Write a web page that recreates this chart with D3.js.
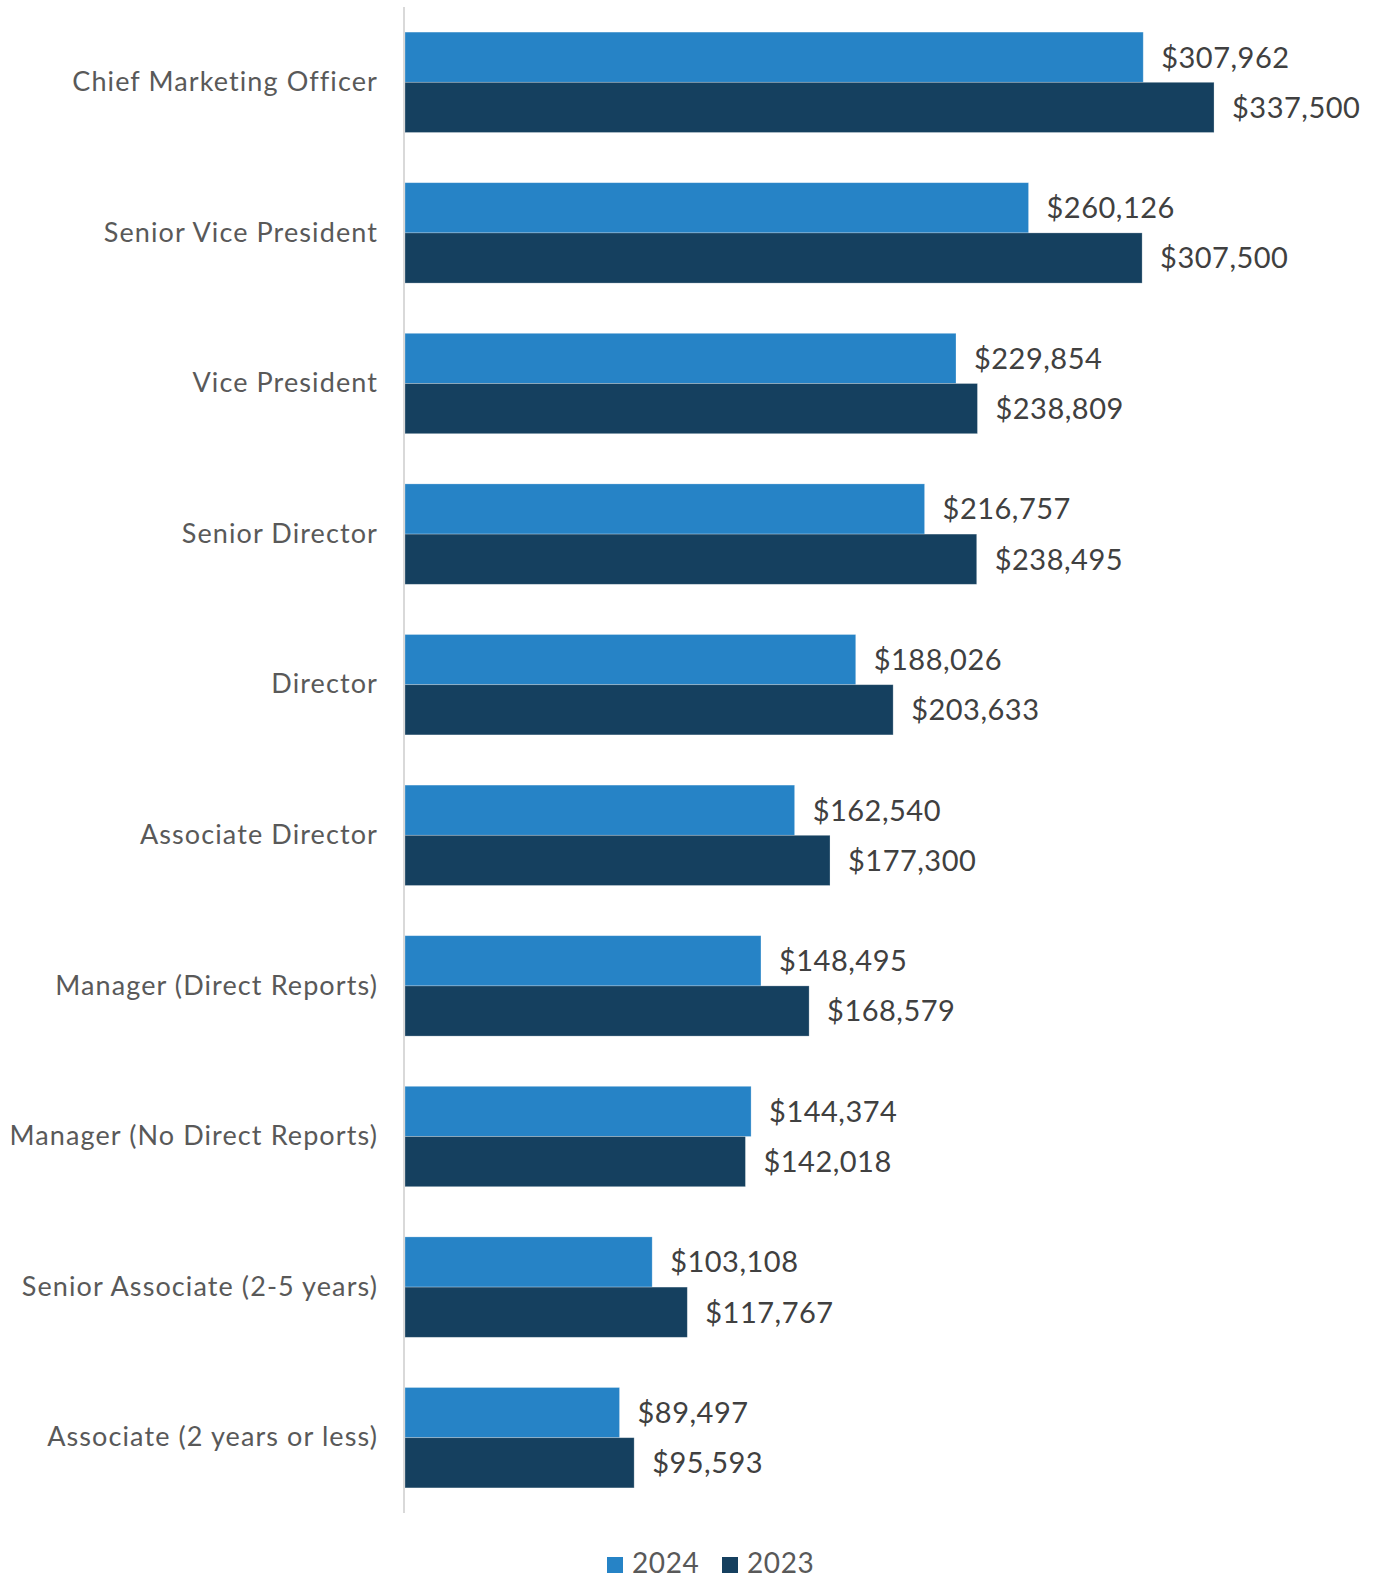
<!DOCTYPE html>
<html>
<head>
<meta charset="utf-8">
<script src="https://cdn.jsdelivr.net/npm/d3@7/dist/d3.min.js"></script>
<style>
  html, body { margin: 0; padding: 0; background: #fff; }
  svg { display: block; }
  text { font-family: "Lato", "Noto Sans", sans-serif; }
</style>
</head>
<body>
<svg id="chart" width="1374" height="1578"></svg>
<script>
// Job levels, top to bottom
const categories = [
  "Chief Marketing Officer",
  "Senior Vice President",
  "Vice President",
  "Senior Director",
  "Director",
  "Associate Director",
  "Manager (Direct Reports)",
  "Manager (No Direct Reports)",
  "Senior Associate (2-5 years)",
  "Associate (2 years or less)"
];
const seriesNames = ["2024", "2023"];
const values2024 = [307962, 260126, 229854, 216757, 188026, 162540, 148495, 144374, 103108, 89497];
const values2023 = [337500, 307500, 238809, 238495, 203633, 177300, 168579, 142018, 117767, 95593];
const xMax = 350000;

const colors = { "2024": "#2683c6", "2023": "#15405f" };

const W = 1374, H = 1578;
const margin = { top: 7, right: 130, bottom: 65, left: 405 };

const svg = d3.select("#chart");

const rows = categories.map((c, i) => ({
  category: c,
  values: [
    { series: "2024", value: values2024[i] },
    { series: "2023", value: values2023[i] }
  ]
}));

const x = d3.scaleLinear().domain([0, xMax]).range([margin.left, W - margin.right]);
const y0 = d3.scaleBand().domain(categories)
  .range([margin.top, H - margin.bottom])
  .paddingInner(1 / 3).paddingOuter(1 / 6);
const y1 = d3.scaleBand().domain(seriesNames).range([0, y0.bandwidth()]);

const fmt = v => "$" + d3.format(",")(v);

// Bars
const groups = svg.append("g").selectAll("g").data(rows).join("g")
  .attr("transform", d => `translate(0,${y0(d.category)})`);

groups.selectAll("rect").data(d => d.values).join("rect")
  .attr("x", x(0))
  .attr("y", d => y1(d.series))
  .attr("width", d => x(d.value) - x(0))
  .attr("height", y1.bandwidth())
  .attr("fill", d => colors[d.series])
  .attr("stroke", "#ffffff")
  .attr("stroke-opacity", 0.35)
  .attr("stroke-width", 0.75);

// Value labels
groups.selectAll("text").data(d => d.values).join("text")
  .attr("x", d => x(d.value) + 18)
  .attr("y", d => y1(d.series) + y1.bandwidth() / 2)
  .attr("dy", "0.36em")
  .attr("font-size", 29)
  .attr("letter-spacing", 0.5)
  .attr("fill", "#404040")
  .text(d => fmt(d.value));

// Category axis
const yAxis = d3.axisLeft(y0).tickSize(0).tickPadding(26);
const ax = svg.append("g")
  .attr("transform", `translate(${x(0) - 1},0)`)
  .call(yAxis);
ax.select(".domain")
  .attr("d", `M0,${margin.top}V${H - margin.bottom}`)
  .attr("stroke", "#d9d9d9").attr("stroke-width", 2);
ax.selectAll(".tick text")
  .attr("font-size", 27)
  .attr("letter-spacing", 1.1)
  .attr("fill", "#595959")
  .attr("font-family", "Lato, 'Noto Sans', sans-serif");

// Legend
const legend = svg.append("g").attr("transform", `translate(607, 1563)`);
const legendItems = legend.selectAll("g").data(seriesNames).join("g")
  .attr("transform", (d, i) => `translate(${i * 115},0)`);
legendItems.append("rect")
  .attr("x", 0).attr("y", -6).attr("width", 16).attr("height", 16)
  .attr("fill", d => colors[d]);
legendItems.append("text")
  .attr("x", 25).attr("y", 0).attr("dy", "0.34em")
  .attr("font-size", 28).attr("letter-spacing", 0.6).attr("fill", "#595959")
  .text(d => d);
</script>
</body>
</html>
